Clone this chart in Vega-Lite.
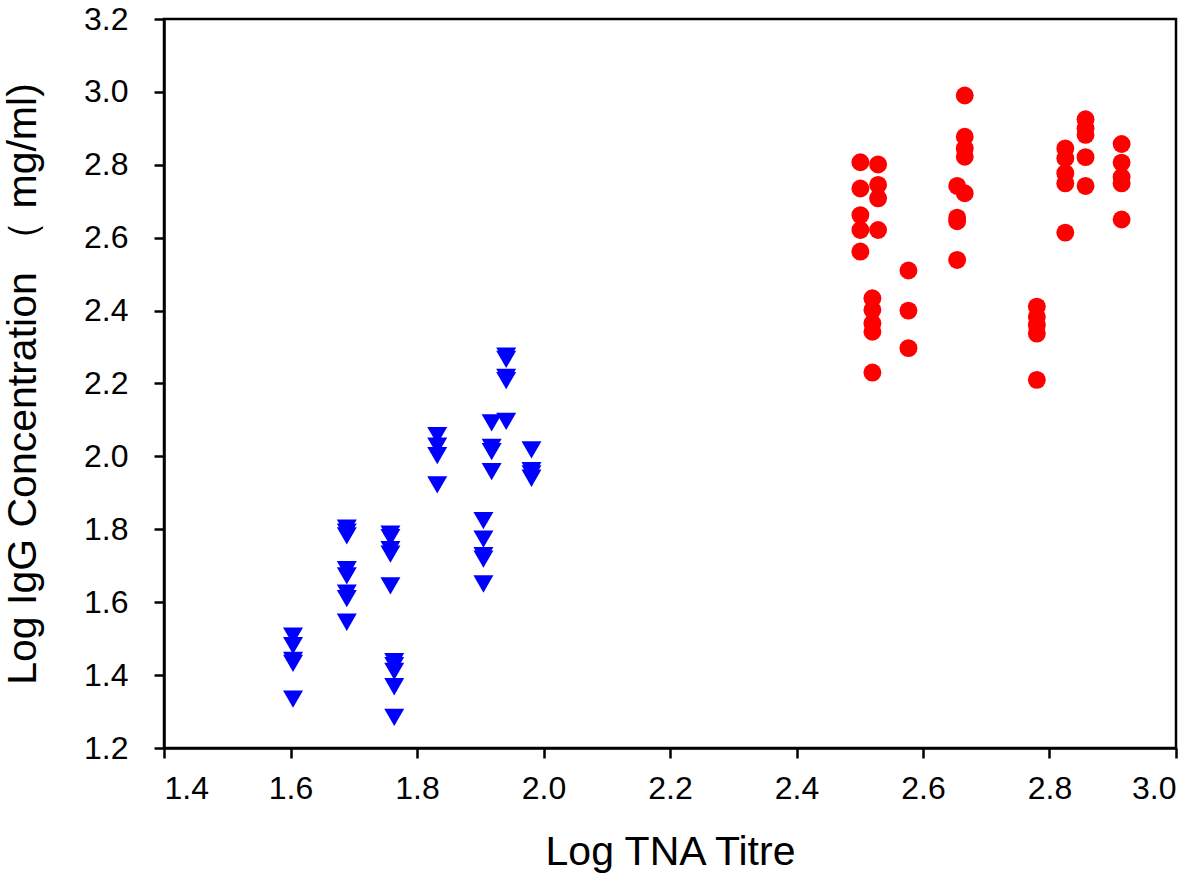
{
  "$schema": "https://vega.github.io/schema/vega-lite/v6.json",
  "width": 1012,
  "height": 729,
  "autosize": {"type": "none"},
  "padding": {"left": 164, "top": 19, "right": 24, "bottom": 125},
  "background": "white",
  "config": {
    "view": {"stroke": "black", "strokeWidth": 2.5},
    "font": "Liberation Sans",
    "axis": {
      "grid": false,
      "domainColor": "black",
      "domainWidth": 2.5,
      "tickColor": "black",
      "tickWidth": 2.5,
      "tickSize": 10,
      "labelFont": "Liberation Sans",
      "labelFontSize": 32,
      "labelColor": "black",
      "titleFont": "Liberation Sans",
      "titleFontSize": 41,
      "titleFontWeight": "normal",
      "titleColor": "black"
    }
  },
  "data": {
    "values": [
      {"titre": 1.604, "igg": 1.507, "group": "low"},
      {"titre": 1.604, "igg": 1.481, "group": "low"},
      {"titre": 1.604, "igg": 1.440, "group": "low"},
      {"titre": 1.604, "igg": 1.432, "group": "low"},
      {"titre": 1.604, "igg": 1.334, "group": "low"},
      {"titre": 1.689, "igg": 1.803, "group": "low"},
      {"titre": 1.689, "igg": 1.792, "group": "low"},
      {"titre": 1.689, "igg": 1.782, "group": "low"},
      {"titre": 1.689, "igg": 1.689, "group": "low"},
      {"titre": 1.689, "igg": 1.672, "group": "low"},
      {"titre": 1.689, "igg": 1.625, "group": "low"},
      {"titre": 1.689, "igg": 1.610, "group": "low"},
      {"titre": 1.689, "igg": 1.545, "group": "low"},
      {"titre": 1.758, "igg": 1.787, "group": "low"},
      {"titre": 1.758, "igg": 1.777, "group": "low"},
      {"titre": 1.758, "igg": 1.744, "group": "low"},
      {"titre": 1.758, "igg": 1.732, "group": "low"},
      {"titre": 1.758, "igg": 1.645, "group": "low"},
      {"titre": 1.764, "igg": 1.437, "group": "low"},
      {"titre": 1.764, "igg": 1.426, "group": "low"},
      {"titre": 1.764, "igg": 1.410, "group": "low"},
      {"titre": 1.764, "igg": 1.368, "group": "low"},
      {"titre": 1.764, "igg": 1.284, "group": "low"},
      {"titre": 1.832, "igg": 2.057, "group": "low"},
      {"titre": 1.832, "igg": 2.028, "group": "low"},
      {"titre": 1.832, "igg": 2.002, "group": "low"},
      {"titre": 1.832, "igg": 1.922, "group": "low"},
      {"titre": 1.905, "igg": 1.824, "group": "low"},
      {"titre": 1.905, "igg": 1.773, "group": "low"},
      {"titre": 1.905, "igg": 1.728, "group": "low"},
      {"titre": 1.905, "igg": 1.718, "group": "low"},
      {"titre": 1.905, "igg": 1.650, "group": "low"},
      {"titre": 1.918, "igg": 2.092, "group": "low"},
      {"titre": 1.918, "igg": 2.025, "group": "low"},
      {"titre": 1.918, "igg": 2.013, "group": "low"},
      {"titre": 1.918, "igg": 1.958, "group": "low"},
      {"titre": 1.941, "igg": 2.275, "group": "low"},
      {"titre": 1.941, "igg": 2.266, "group": "low"},
      {"titre": 1.941, "igg": 2.217, "group": "low"},
      {"titre": 1.941, "igg": 2.208, "group": "low"},
      {"titre": 1.941, "igg": 2.096, "group": "low"},
      {"titre": 1.981, "igg": 2.018, "group": "low"},
      {"titre": 1.981, "igg": 1.961, "group": "low"},
      {"titre": 1.981, "igg": 1.952, "group": "low"},
      {"titre": 1.981, "igg": 1.940, "group": "low"},
      {"titre": 2.501, "igg": 2.807, "group": "high"},
      {"titre": 2.501, "igg": 2.735, "group": "high"},
      {"titre": 2.501, "igg": 2.662, "group": "high"},
      {"titre": 2.501, "igg": 2.621, "group": "high"},
      {"titre": 2.501, "igg": 2.562, "group": "high"},
      {"titre": 2.529, "igg": 2.801, "group": "high"},
      {"titre": 2.529, "igg": 2.745, "group": "high"},
      {"titre": 2.529, "igg": 2.708, "group": "high"},
      {"titre": 2.529, "igg": 2.621, "group": "high"},
      {"titre": 2.520, "igg": 2.434, "group": "high"},
      {"titre": 2.520, "igg": 2.402, "group": "high"},
      {"titre": 2.520, "igg": 2.365, "group": "high"},
      {"titre": 2.520, "igg": 2.342, "group": "high"},
      {"titre": 2.520, "igg": 2.230, "group": "high"},
      {"titre": 2.577, "igg": 2.510, "group": "high"},
      {"titre": 2.577, "igg": 2.400, "group": "high"},
      {"titre": 2.577, "igg": 2.297, "group": "high"},
      {"titre": 2.666, "igg": 2.990, "group": "high"},
      {"titre": 2.666, "igg": 2.877, "group": "high"},
      {"titre": 2.666, "igg": 2.845, "group": "high"},
      {"titre": 2.666, "igg": 2.822, "group": "high"},
      {"titre": 2.666, "igg": 2.722, "group": "high"},
      {"titre": 2.654, "igg": 2.742, "group": "high"},
      {"titre": 2.654, "igg": 2.655, "group": "high"},
      {"titre": 2.654, "igg": 2.645, "group": "high"},
      {"titre": 2.654, "igg": 2.539, "group": "high"},
      {"titre": 2.780, "igg": 2.411, "group": "high"},
      {"titre": 2.780, "igg": 2.383, "group": "high"},
      {"titre": 2.780, "igg": 2.360, "group": "high"},
      {"titre": 2.780, "igg": 2.337, "group": "high"},
      {"titre": 2.780, "igg": 2.210, "group": "high"},
      {"titre": 2.825, "igg": 2.845, "group": "high"},
      {"titre": 2.825, "igg": 2.818, "group": "high"},
      {"titre": 2.825, "igg": 2.777, "group": "high"},
      {"titre": 2.825, "igg": 2.749, "group": "high"},
      {"titre": 2.825, "igg": 2.614, "group": "high"},
      {"titre": 2.857, "igg": 2.925, "group": "high"},
      {"titre": 2.857, "igg": 2.900, "group": "high"},
      {"titre": 2.857, "igg": 2.882, "group": "high"},
      {"titre": 2.857, "igg": 2.821, "group": "high"},
      {"titre": 2.857, "igg": 2.742, "group": "high"},
      {"titre": 2.914, "igg": 2.857, "group": "high"},
      {"titre": 2.914, "igg": 2.806, "group": "high"},
      {"titre": 2.914, "igg": 2.766, "group": "high"},
      {"titre": 2.914, "igg": 2.749, "group": "high"},
      {"titre": 2.914, "igg": 2.650, "group": "high"}
    ]
  },
  "mark": {"type": "point", "filled": true, "opacity": 1, "strokeWidth": 0},
  "encoding": {
    "x": {
      "field": "titre",
      "type": "quantitative",
      "scale": {"domain": [1.4, 3.0], "nice": false, "zero": false},
      "axis": {
        "title": "Log TNA Titre",
        "values": [1.4, 1.6, 1.8, 2.0, 2.2, 2.4, 2.6, 2.8, 3.0],
        "format": ".1f",
        "labelPadding": 15,
        "titleBaseline": "alphabetic",
        "titleY": 116
      }
    },
    "y": {
      "field": "igg",
      "type": "quantitative",
      "scale": {"domain": [1.2, 3.2], "nice": false, "zero": false},
      "axis": {
        "title": "Log IgG Concentration （ mg/ml)",
        "values": [1.2, 1.4, 1.6, 1.8, 2.0, 2.2, 2.4, 2.6, 2.8, 3.0, 3.2],
        "format": ".1f",
        "labelPadding": 26,
        "titleBaseline": "alphabetic",
        "titleX": -129
      }
    },
    "shape": {
      "field": "group",
      "type": "nominal",
      "scale": {"domain": ["low", "high"], "range": ["triangle-down", "circle"]},
      "legend": null
    },
    "color": {
      "field": "group",
      "type": "nominal",
      "scale": {"domain": ["low", "high"], "range": ["#0000ff", "#ff0000"]},
      "legend": null
    },
    "size": {
      "field": "group",
      "type": "nominal",
      "scale": {"domain": ["low", "high"], "range": [400, 320]},
      "legend": null
    }
  }
}
